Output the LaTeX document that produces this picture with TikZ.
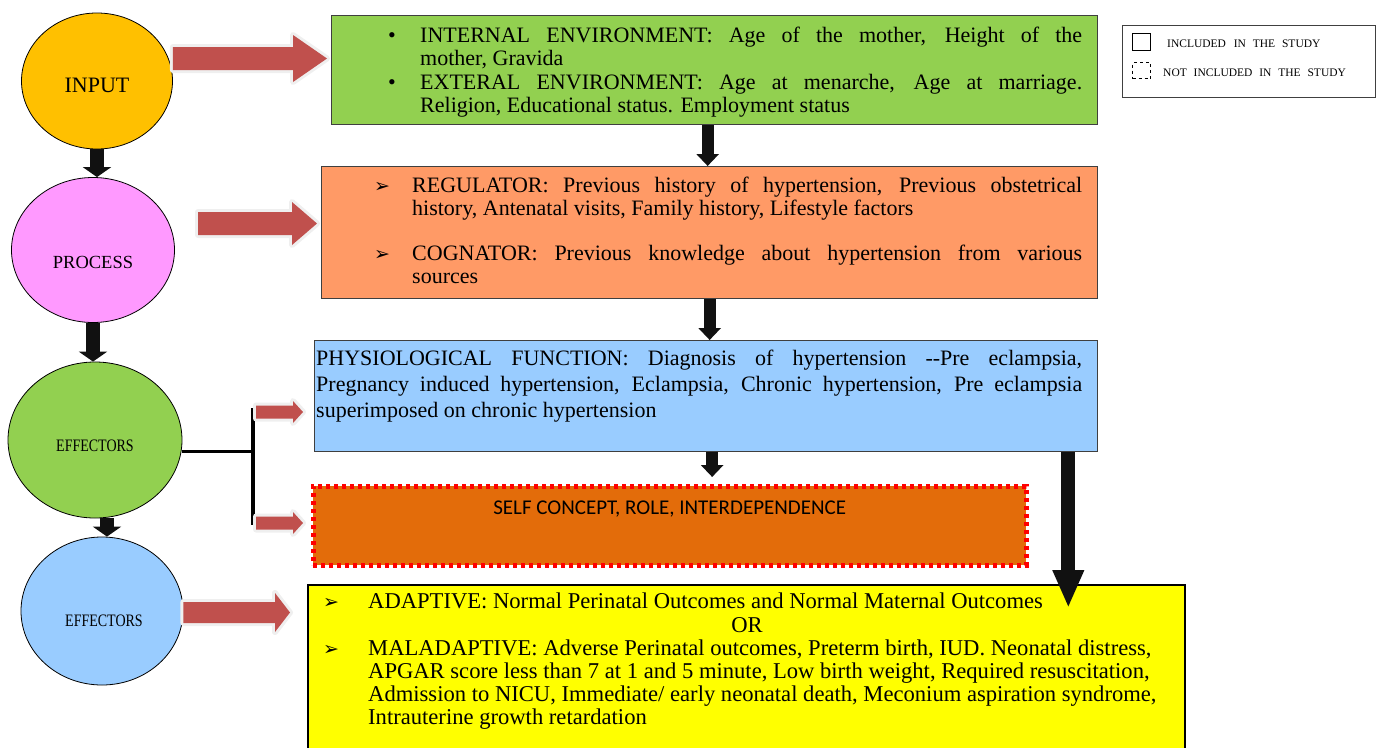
\documentclass[tikz,border=0pt]{standalone}
\usepackage{fontspec}
\setmainfont{Liberation Serif}
\newfontfamily\calib{Carlito}
\newfontfamily\dejavu{DejaVu Sans}
\newfontfamily\condserif[FakeStretch=0.8]{Liberation Serif}
\usetikzlibrary{arrows.meta,calc,shapes.geometric}
\definecolor{cinput}{HTML}{FFC000}
\definecolor{cproc}{HTML}{FF99FF}
\definecolor{cgreen}{HTML}{92D050}
\definecolor{cblue}{HTML}{99CCFF}
\definecolor{corange}{HTML}{FF9A66}
\definecolor{cself}{HTML}{E36C0A}
\definecolor{cyellow}{HTML}{FFFF00}
\definecolor{boxline}{HTML}{3F3F3F}
\definecolor{arrred}{HTML}{C0504D}
\definecolor{arrglow}{HTML}{EFEFEF}
\definecolor{arrshadow}{HTML}{BC9A9A}
\definecolor{arrblack}{HTML}{111111}
\tikzset{
  ell/.style={ellipse, draw=black, line width=0.8pt, inner sep=0pt},
  box/.style={rectangle, draw=boxline, line width=1.3pt, anchor=north west, inner sep=0pt},
  txt/.style={anchor=base west, inner sep=0pt, font=\fontsize{22}{23}\selectfont},
  ytxt/.style={anchor=base west, inner sep=0pt, font=\fontsize{22.6}{23}\selectfont},
  bmark/.style={anchor=base west, inner sep=0pt, font=\dejavu\fontsize{19}{19}\selectfont},
  legtxt/.style={anchor=base west, inner sep=0pt, font=\fontsize{11.5}{12}\selectfont},
  blkS/.style={draw=arrblack, line width=14pt, -{Triangle[width=28pt,length=10pt]}},
  blkM/.style={draw=arrblack, line width=12pt, -{Triangle[width=22pt,length=12pt]}},
  blkL/.style={draw=arrblack, line width=14pt, -{Triangle[width=29pt,length=38pt]}},
  tee/.style={draw=black, line width=3pt},
  bar/.style={draw=black, line width=4.5pt},
}
\newcommand\arrpoly[3]{(\x1,\y2+#1) -- (\x2-#3,\y2+#1) -- (\x2-#3,\y2+#2) -- (\x2,\y2) -- (\x2-#3,\y2-#2) -- (\x2-#3,\y2-#1) -- (\x1,\y2-#1) -- cycle}
\newcommand\blockarrow[5]{%
  \begin{scope}[shift={(2pt,-5pt)}]
    \fill[arrshadow] let \p1=(#1),\p2=(#2) in \arrpoly{#3}{#4}{#5};
  \end{scope}
  \draw[arrglow, line width=6pt, line join=round] let \p1=(#1),\p2=(#2) in \arrpoly{#3}{#4}{#5};
  \fill[arrred] let \p1=(#1),\p2=(#2) in \arrpoly{#3}{#4}{#5};
}
\begin{document}
\begin{tikzpicture}[x=1pt,y=-1pt]
\useasboundingbox (0,0) rectangle (1380,747);
\clip (0,0) rectangle (1380,747);

% ellipses
\node[ell, fill=cinput, minimum width=151pt, minimum height=136pt] (inp) at (97,81) {};
\node[anchor=base, inner sep=0pt, font=\fontsize{22}{22}\selectfont] (inpt) at (97,92) {INPUT};
\node[ell, fill=cproc, minimum width=163pt, minimum height=145pt] (proc) at (93,250) {};
\node[anchor=base, inner sep=0pt, font=\fontsize{18.5}{18.5}\selectfont] (proct) at (93,268) {PROCESS};
\node[ell, fill=cgreen, minimum width=174pt, minimum height=156pt] (eff1) at (95,440) {};
\node[anchor=base, inner sep=0pt, font=\condserif\fontsize{17.5}{17.5}\selectfont] (eff1t) at (95,451) {EFFECTORS};
\node[ell, fill=cblue, minimum width=162pt, minimum height=148pt] (eff2) at (102,611) {};
\node[anchor=base, inner sep=0pt, font=\condserif\fontsize{17.5}{17.5}\selectfont] (eff2t) at (104,626) {EFFECTORS};

% ellipse arrows
\draw[blkS] (inp.south) -- (inp.south |- proc.north);
\draw[blkS] (proc.south) -- (proc.south |- eff1.north);
\draw[blkS] ($(eff1.south)+(12,0)$) -- ($(eff2.north)+(5,0)$);

% boxes
\node[box, fill=cgreen, minimum width=766pt, minimum height=109pt] (gbox) at (331,15) {};
\node[box, fill=corange, minimum width=776pt, minimum height=132pt] (obox) at (321,166) {};
\node[box, fill=cblue, minimum width=783pt, minimum height=111pt] (bbox) at (314,340) {};
\node[rectangle, anchor=north west, inner sep=0pt, fill=cself, draw=red, line width=4.5pt, dash pattern=on 4pt off 4pt, minimum width=713pt, minimum height=79pt] (sbox) at (311,484) {};
\node[box, draw=black, line width=2pt, fill=cyellow, minimum width=877pt, minimum height=180pt] (ybox) at (307,584) {};

% legend
\node[box, draw=black!75, line width=1pt, fill=white, minimum width=253pt, minimum height=72pt] (leg) at (1122,25) {};
\node[anchor=north west, draw=black, line width=1pt, inner sep=0pt, minimum width=18pt, minimum height=17pt] (legsolid) at (1132,33) {};
\node[anchor=north west, draw=black, line width=1pt, dash pattern=on 3pt off 3pt, inner sep=0pt, minimum width=18pt, minimum height=16pt] (legdash) at (1132,62) {};
\node[legtxt] (legt1) at (1167,47) {INCLUDED\hspace{5pt} IN\hspace{4pt} THE\hspace{4pt} STUDY};
\node[legtxt] (legt2) at (1163,76) {NOT\hspace{4pt} INCLUDED\hspace{4pt} IN\hspace{4pt} THE\hspace{4pt} STUDY};

% box connectors
\coordinate (go) at ($(gbox.south)+(-7,0)$);
\draw[blkM] (go) -- (go |- obox.north);
\draw[blkM] (obox.south) -- (obox.south |- bbox.north);
\coordinate (bs) at ($(bbox.south)+(6,0)$);
\coordinate (be) at ($(bs |- sbox.north)+(0,-7)$);
\draw[blkM] (bs) -- (be);
\coordinate (bigs) at ($(bbox.south east)+(-30,0)$);
\coordinate (bige) at ($(bigs |- ybox.north)+(0,24)$);
\draw[blkL] (bigs) -- (bige);

% tee from effectors
\coordinate (tee) at (253,451);
\coordinate (bt) at (253,408);
\coordinate (bb) at (253,525);
\draw[tee] ([yshift=-11pt]eff1.east) -- (tee);
\draw[bar] (bt) -- (bb);

% block arrows
\coordinate (a1s) at (inp.east |- 0,58.5);
\coordinate (a1e) at ($(gbox.west |- a1s)+(-4,0)$);
\blockarrow{a1s}{a1e}{11.5pt}{23.5pt}{34pt}
\coordinate (a2s) at (198,223.5);
\coordinate (a2e) at ($(obox.west |- a2s)+(-4,0)$);
\blockarrow{a2s}{a2e}{11.5pt}{21.5pt}{25pt}
\coordinate (s1s) at (256,412);
\coordinate (s1e) at ($(bbox.west |- s1s)+(-11,0)$);
\blockarrow{s1s}{s1e}{6.5pt}{11pt}{10pt}
\coordinate (s2s) at (256,523);
\coordinate (s2e) at ($(sbox.west |- s2s)+(-8,0)$);
\blockarrow{s2s}{s2e}{6.5pt}{11pt}{10pt}
\coordinate (a3s) at (eff2.east |- 0,612.5);
\coordinate (a3e) at ($(ybox.west |- a3s)+(-17,0)$);
\blockarrow{a3s}{a3e}{10.5pt}{19.5pt}{15pt}

% green box text
\node[txt] (gb1) at (388,42) {\textbullet};
\node[txt] (g1) at (420,42) {\makebox[662pt][s]{INTERNAL ENVIRONMENT: Age of the mother, Height of the}};
\node[txt] (g2) at (420,65) {mother, Gravida};
\node[txt] (gb2) at (388,89) {\textbullet};
\node[txt] (g3) at (420,89) {\makebox[662pt][s]{EXTERAL ENVIRONMENT: Age at menarche, Age at marriage.}};
\node[txt] (g4) at (420,112) {Religion, Educational status. Employment status};

% orange box text
\node[bmark] (ob1) at (374,192) {➢};
\node[txt] (o1) at (412,192) {\makebox[670pt][s]{REGULATOR: Previous history of hypertension, Previous obstetrical}};
\node[txt] (o2) at (412,215) {history, Antenatal visits, Family history, Lifestyle factors};
\node[bmark] (ob2) at (374,260) {➢};
\node[txt] (o3) at (412,260) {\makebox[670pt][s]{COGNATOR: Previous knowledge about hypertension from various}};
\node[txt] (o4) at (412,283) {sources};

% blue box text
\node[txt] (b1) at (316,365) {\makebox[766pt][s]{PHYSIOLOGICAL FUNCTION: Diagnosis of hypertension {-}{-}Pre eclampsia,}};
\node[txt] (b2) at (316,391) {\makebox[766pt][s]{Pregnancy induced hypertension, Eclampsia, Chronic hypertension, Pre eclampsia}};
\node[txt] (b3) at (316,417) {superimposed on chronic hypertension};

% self concept text
\node[anchor=base, inner sep=0pt, font=\calib\fontsize{21}{21}\selectfont] (st) at ($(sbox.north)+(0,30)$) {SELF CONCEPT, ROLE, INTERDEPENDENCE};

% yellow box text
\node[bmark] (yb1) at (323,608) {➢};
\node[ytxt] (y1) at (368,608) {ADAPTIVE: Normal Perinatal Outcomes and Normal Maternal Outcomes};
\node[anchor=base, inner sep=0pt, font=\fontsize{22.6}{23}\selectfont] (yor) at (747,632) {OR};
\node[bmark] (yb2) at (323,655) {➢};
\node[ytxt] (y2) at (368,655) {MALADAPTIVE: Adverse Perinatal outcomes, Preterm birth, IUD. Neonatal distress,};
\node[ytxt] (y3) at (368,678) {APGAR score less than 7 at 1 and 5 minute, Low birth weight, Required resuscitation,};
\node[ytxt] (y4) at (368,701) {Admission to NICU, Immediate/ early neonatal death, Meconium aspiration syndrome,};
\node[ytxt] (y5) at (368,724) {Intrauterine growth retardation};
\end{tikzpicture}
\end{document}
